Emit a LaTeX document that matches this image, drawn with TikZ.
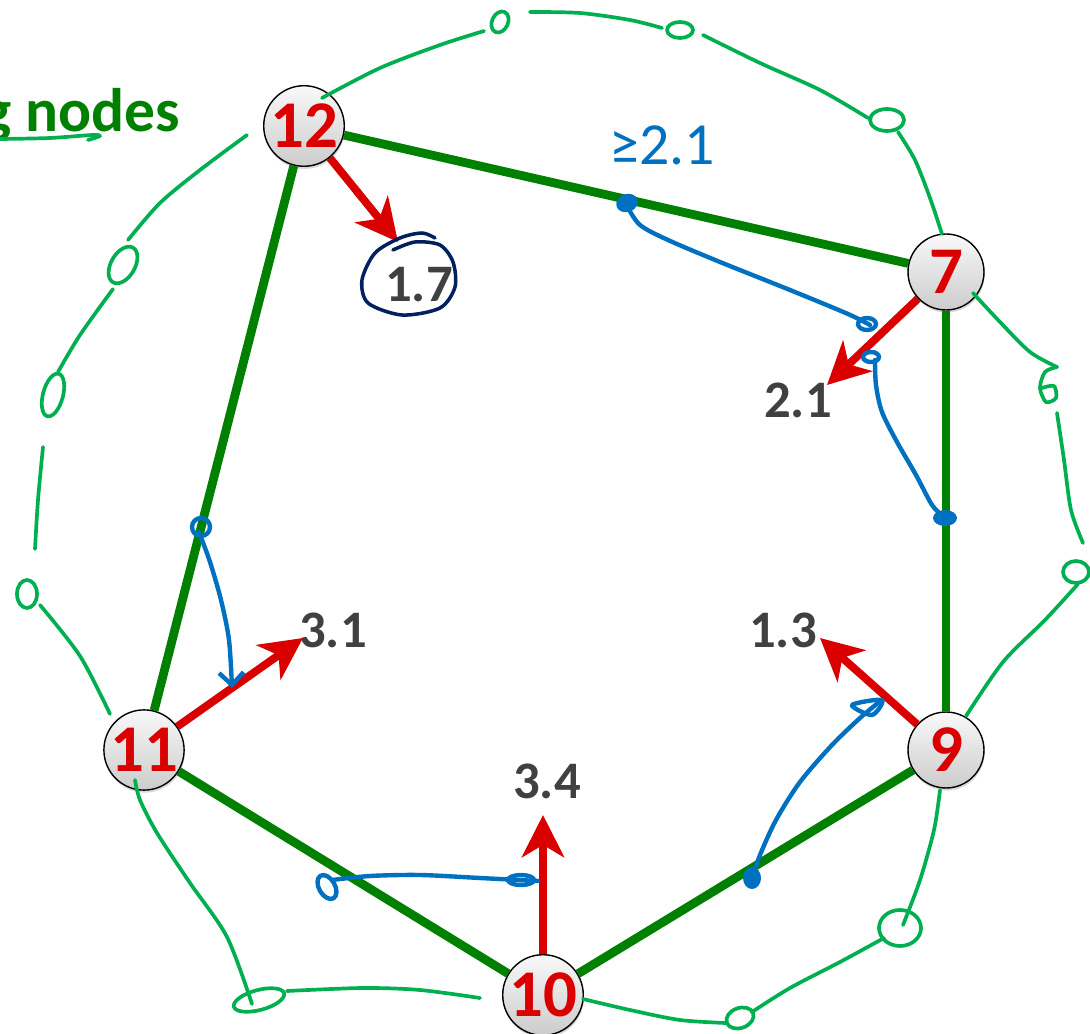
\documentclass[tikz,border=0pt]{standalone}
\usepackage{fontspec}
\setmainfont{Carlito}
\usetikzlibrary{arrows.meta, shadows}

\definecolor{edgegreen}{RGB}{0,128,0}
\definecolor{inkgreen}{RGB}{0,176,80}
\definecolor{inkblue}{RGB}{0,112,192}
\definecolor{inknavy}{RGB}{0,32,96}
\definecolor{vecred}{RGB}{218,0,0}
\definecolor{valgray}{RGB}{64,64,64}

\begin{document}
\begin{tikzpicture}[
    x=0.02cm, y=-0.02cm,
    vertex/.style={circle, draw, thick, minimum size=1.52cm, inner sep=0pt,
                   top color=gray!5, bottom color=gray!40,
                   drop shadow={shadow xshift=0.4pt, shadow yshift=-1.5pt, opacity=0.3},
                   text=vecred, font=\bfseries\fontsize{38}{38}\selectfont},
    edge/.style={edgegreen, line width=5pt},
    vec/.style={vecred, line width=4.5pt, -{Stealth[length=24pt, width=24pt, inset=7pt]}},
    val/.style={text=valgray, inner sep=0pt, font=\bfseries\fontsize{30}{30}\selectfont},
    heading/.style={text=edgegreen, inner sep=0pt, font=\bfseries\fontsize{35}{35}\selectfont},
    ink/.style={inkgreen, line width=2.1pt, line cap=round, line join=round},
    pen/.style={inkblue, line width=2.5pt, line cap=round, line join=round}
  ]
  \useasboundingbox (0,0) rectangle (1090,1034);

  \node[heading, anchor=base west] (title) at (-18,132) {g nodes};
  \draw[ink] plot[smooth] coordinates {(0,139) (50,138) (92,135) (100,136) (88,140)};

  \node[vertex] (n12) at (304,126) {12};
  \node[vertex] (n7) at (946,272) {7};
  \node[vertex] (n9) at (946,750) {9};
  \node[vertex] (n10) at (543,995) {10};
  \node[vertex] (n11) at (144,750) {11};

  \foreach \a/\b in {12/7, 7/9, 9/10, 10/11, 11/12}
    \draw[edge] (n\a) -- (n\b);

  \node[val] (v12) at (419,285) {1.7};
  \node[val] (v7) at (798,400) {2.1};
  \node[val] (v9) at (783,630) {1.3};
  \node[val] (v10) at (547,781) {3.4};
  \node[val] (v11) at (333,630) {3.1};

  \coordinate (t12) at (398,242);
  \coordinate (t7) at (827,385);
  \coordinate (t9) at (820,638);
  \coordinate (t10) at (543,815);
  \coordinate (t11) at (303,638);

  \foreach \n in {12,7,9,10,11}
    \draw[vec] (n\n) -- (t\n);

  % ring drawn by hand
  \draw[ink] plot[smooth] coordinates {(322,98) (380,68) (440,45) (484,31)};
  \draw[ink, rotate around={-25:(500,22)}] (500,22) ellipse [x radius=8, y radius=11];
  \draw[ink] plot[smooth] coordinates {(530,12) (580,13) (630,20) (662,28)};
  \draw[ink] (680,30) ellipse [x radius=13, y radius=8];
  \draw[ink] plot[smooth] coordinates {(703,35) (760,63) (820,90) (868,118)};
  \draw[ink] (887,120) ellipse [x radius=17, y radius=11];
  \draw[ink] plot[smooth] coordinates {(898,132) (915,160) (930,198) (942,234)};
  \draw[ink] plot[smooth] coordinates {(973,293) (1000,322) (1030,352) (1057,367)};
  \draw[ink] plot[smooth] coordinates {(1057,367) (1045,372) (1040,388) (1046,402) (1056,398) (1054,386) (1042,388)};
  \draw[ink] plot[smooth] coordinates {(1057,413) (1064,460) (1071,510) (1083,543)};
  \draw[ink] (1076,572) ellipse [x radius=13, y radius=11];
  \draw[ink] plot[smooth] coordinates {(1078,584) (1045,620) (1003,662) (966,716)};
  \draw[ink] plot[smooth] coordinates {(940,790) (934,830) (920,880) (903,925)};
  \draw[ink] (900,928) ellipse [x radius=21, y radius=18];
  \draw[ink] plot[smooth] coordinates {(884,938) (840,962) (790,988) (752,1012)};
  \draw[ink, rotate around={20:(740,1018)}] (740,1018) ellipse [x radius=14, y radius=10];
  \draw[ink] plot[smooth] coordinates {(726,1023) (680,1020) (630,1010) (583,999)};
  \draw[ink] plot[smooth] coordinates {(480,998) (420,990) (363,988) (287,991)};
  \draw[ink, rotate around={15:(259,1000)}] (259,1000) ellipse [x radius=26, y radius=10];
  \draw[ink] plot[smooth] coordinates {(252,1004) (227,937) (190,883) (157,833) (140,800) (135,780)};
  \draw[ink] plot[smooth] coordinates {(110,714) (80,656) (40,605)};
  \draw[ink] (27,594) ellipse [x radius=10, y radius=14];
  \draw[ink] plot[smooth] coordinates {(35,549) (38,500) (43,447)};
  \draw[ink, rotate around={-15:(53,395)}] (53,395) ellipse [x radius=10, y radius=22];
  \draw[ink] plot[smooth] coordinates {(58,372) (80,335) (113,289)};
  \draw[ink, rotate around={-30:(123,265)}] (123,265) ellipse [x radius=12, y radius=20];
  \draw[ink] plot[smooth] coordinates {(128,240) (160,203) (200,170) (247,135)};

  % notes in blue
  \node[text=inkblue, font=\fontsize{34}{34}\selectfont] (bound) at (662,145) {≥2.1};
  \fill[inkblue, rotate around={20:(627,203)}] (627,203) ellipse [x radius=11, y radius=9];
  \draw[pen] plot[smooth] coordinates {(627,206) (640,225) (668,240) (720,262) (790,290) (848,314) (870,325)};
  \draw[pen] (867,324) ellipse [x radius=9, y radius=6];
  \draw[pen] (871,357) ellipse [x radius=8, y radius=5];
  \draw[pen] plot[smooth] coordinates {(875,360) (876,385) (882,412) (897,442) (916,475) (932,505) (942,515)};
  \fill[inkblue] (945,518) ellipse [x radius=12, y radius=8];
  \draw[pen] (201,527) circle [radius=9];
  \draw[pen, -{Straight Barb[length=7pt, width=14pt]}]
    plot[smooth] coordinates {(199,532) (210,562) (221,600) (229,640) (232,688)};
  \draw[pen, rotate around={30:(327,887)}] (327,887) ellipse [x radius=8, y radius=13];
  \draw[pen] plot[smooth] coordinates {(332,880) (370,876) (420,875) (480,878) (538,881)};
  \draw[pen] (521,880) ellipse [x radius=13, y radius=5];
  \fill[inkblue] (752,878) ellipse [x radius=9, y radius=11];
  \draw[pen] plot[smooth] coordinates {(752,878) (760,855) (776,820) (800,782) (832,745) (860,718) (878,703)};
  \draw[pen] plot[smooth cycle] coordinates {(852,705) (882,700) (872,715)};

  % circled value
  \draw[inknavy, line width=2pt, line cap=round]
    plot[smooth] coordinates {(393,250) (415,242) (440,245) (453,262) (455,287) (440,308)
                              (402,315) (368,303) (362,280) (375,253) (400,238) (422,233) (435,238)};
\end{tikzpicture}
\end{document}
